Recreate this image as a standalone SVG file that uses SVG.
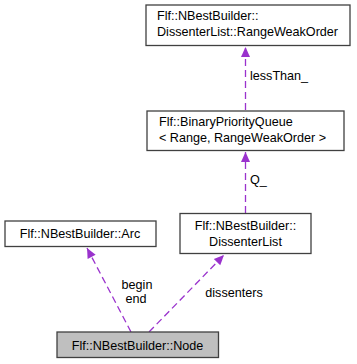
<svg xmlns="http://www.w3.org/2000/svg" width="357" height="364" viewBox="0 0 357 364">
  <style>
    .box { fill: #ffffff; stroke: #404040; stroke-width: 1.3; }
    .cur { fill: #bfbfbf; stroke: #404040; stroke-width: 1.3; }
    text { font-family: "Liberation Sans", Arial, sans-serif; font-size: 12.6px; fill: #000000; }
    .c { text-anchor: middle; }
    .edge { fill: none; stroke: #9a32cd; stroke-width: 1.3; stroke-dasharray: 7,4; }
  </style>
  <defs>
    <marker id="arrow" viewBox="0 0 10 10" refX="10" refY="5" markerUnits="userSpaceOnUse" markerWidth="12" markerHeight="10" orient="auto">
      <path d="M0,0.5 L10,5 L0,9.5 z" fill="#9a32cd"/>
    </marker>
  </defs>

  <g id="edges">
    <line class="edge" x1="131" y1="332" x2="87" y2="248" marker-end="url(#arrow)"/>
    <line class="edge" x1="149" y1="332" x2="224" y2="255" marker-end="url(#arrow)"/>
    <line class="edge" x1="245.5" y1="213" x2="245.5" y2="152" marker-end="url(#arrow)"/>
    <line class="edge" x1="245.5" y1="110" x2="245.5" y2="47" marker-end="url(#arrow)"/>
    <text class="c" x="137" y="289">begin</text>
    <text class="c" x="136" y="303">end</text>
    <text class="c" x="234" y="297">dissenters</text>
    <text x="250" y="184">Q_</text>
    <text x="250" y="80">lessThan_</text>
  </g>

  <g id="node-rangeweakorder">
    <rect class="box" x="146" y="5" width="204" height="40.5"/>
    <text x="157" y="20">Flf::NBestBuilder::</text>
    <text x="157" y="36">DissenterList::RangeWeakOrder</text>
  </g>

  <g id="node-priorityqueue">
    <rect class="box" x="147" y="111" width="197" height="39.5"/>
    <text x="159" y="126">Flf::BinaryPriorityQueue</text>
    <text x="159" y="142">&lt; Range, RangeWeakOrder &gt;</text>
  </g>

  <g id="node-dissenterlist">
    <rect class="box" x="180" y="213.5" width="131" height="40"/>
    <text class="c" x="245.5" y="229.5">Flf::NBestBuilder::</text>
    <text class="c" x="245.5" y="245.5">DissenterList</text>
  </g>

  <g id="node-arc">
    <rect class="box" x="5" y="221" width="151" height="25.5"/>
    <text class="c" x="80" y="238">Flf::NBestBuilder::Arc</text>
  </g>

  <g id="node-node">
    <rect class="cur" x="57" y="332" width="161.5" height="25.5"/>
    <text class="c" x="137.5" y="349.5">Flf::NBestBuilder::Node</text>
  </g>
</svg>
